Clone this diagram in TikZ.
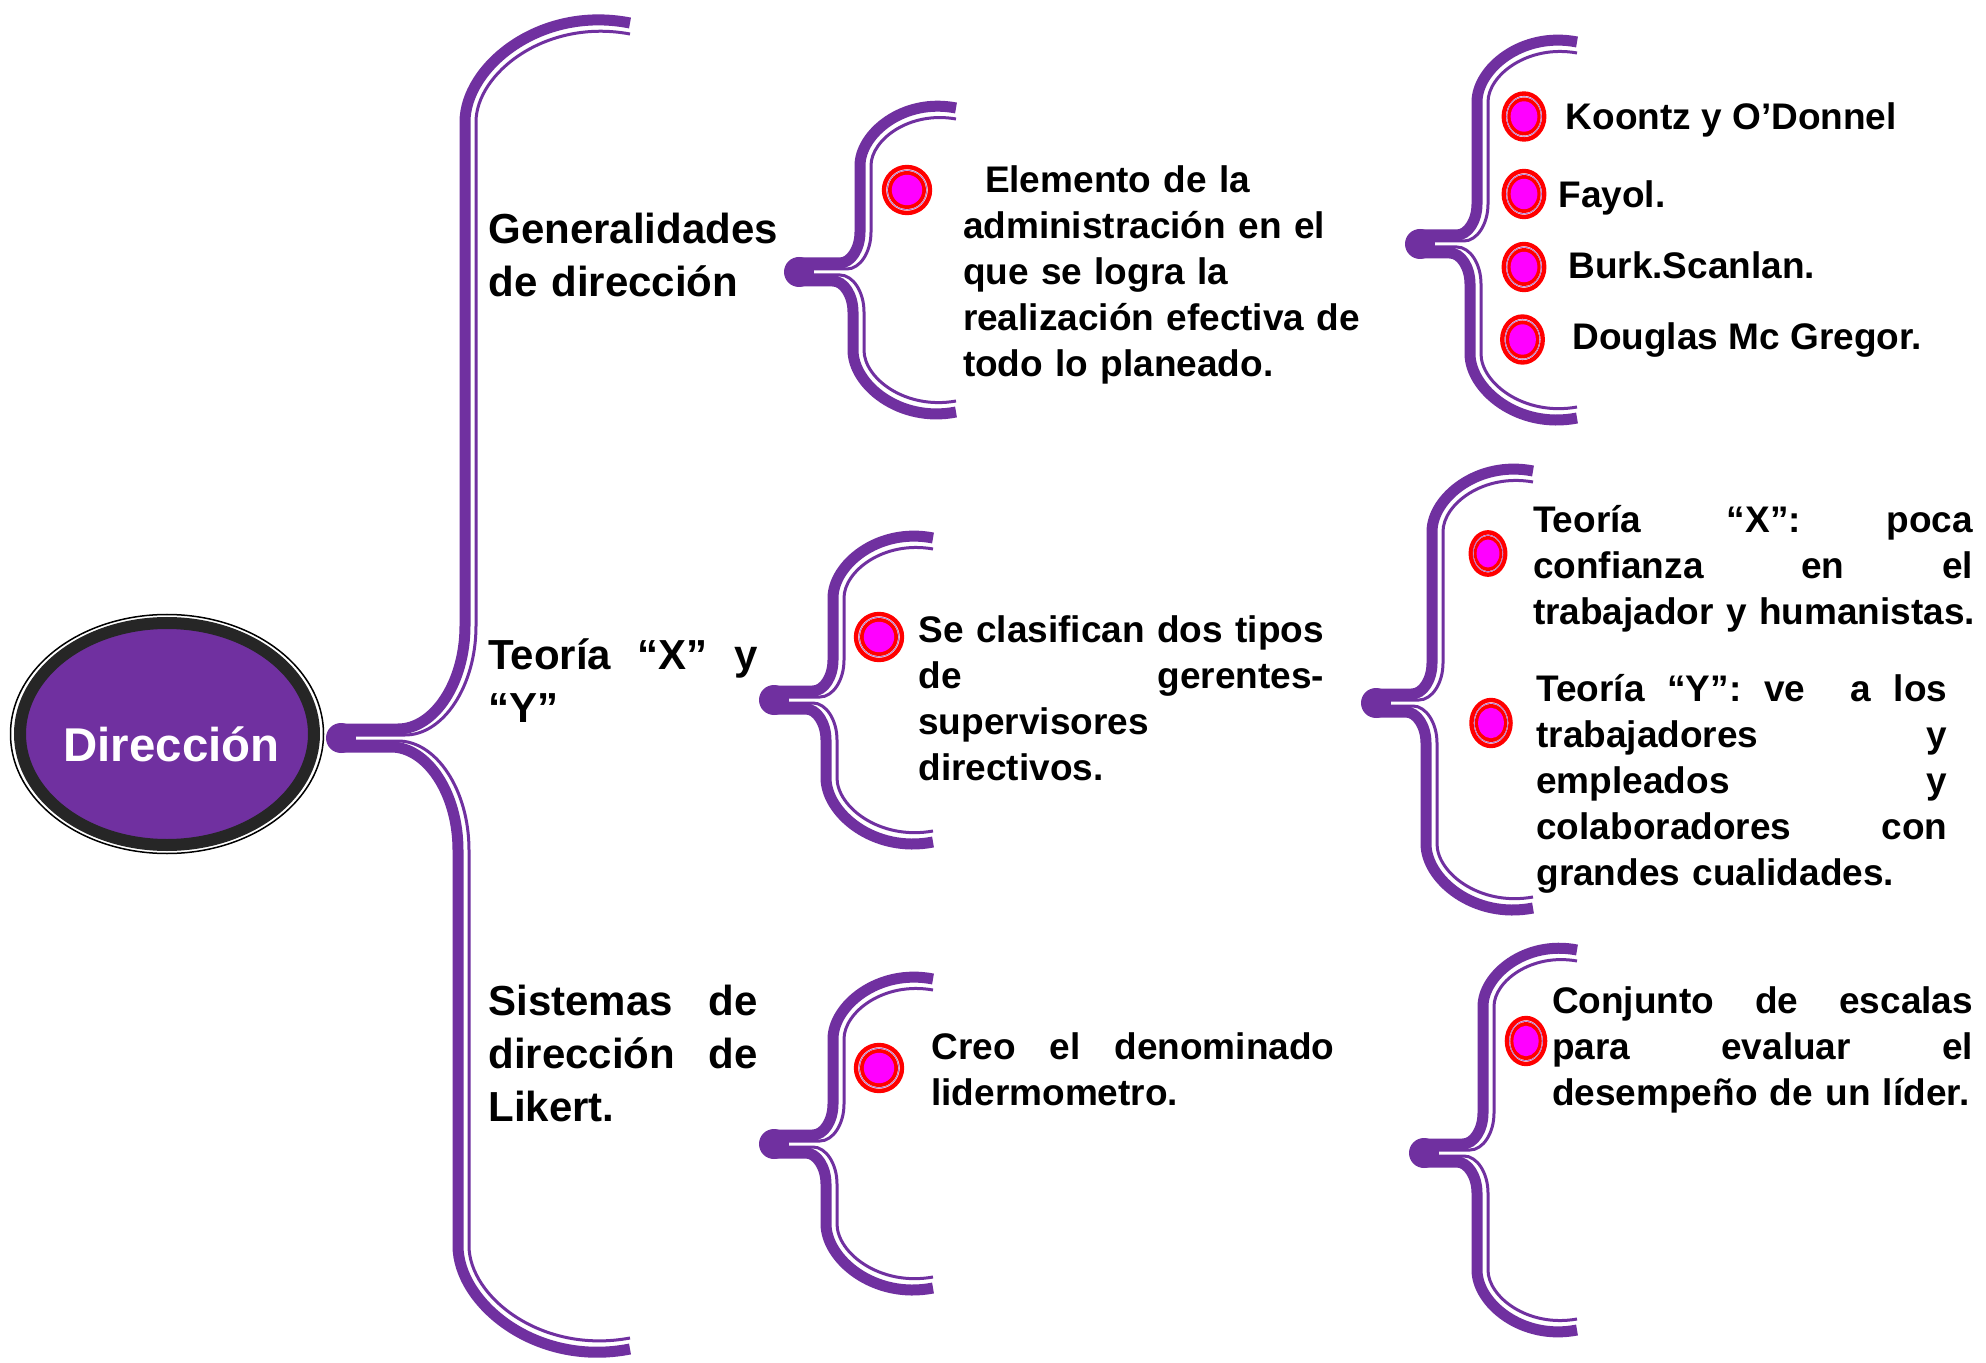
\documentclass[tikz,border=0pt]{standalone}
\usepackage{fontspec}
\setmainfont{Liberation Sans}
\usetikzlibrary{shapes.geometric}

\definecolor{dirpurple}{HTML}{7030A0}
\definecolor{ringdark}{HTML}{262626}
\definecolor{dotred}{HTML}{FF0000}
\definecolor{dotpink}{HTML}{FF00FF}
\definecolor{dotline}{HTML}{B070D0}

\tikzset{
	bracethick/.style={draw=dirpurple, line width=5.5pt},
	bracethin/.style={draw=dirpurple, line width=1.5pt},
	headtxt/.style={anchor=base west, inner sep=0pt, align=left, text width=#1+20pt, /utils/exec={\def\jlw{#1}}, font=\fontsize{21}{26.5}\selectfont\bfseries},
	headtxt/.default=150pt,
	bodytxt/.style={anchor=base west, inner sep=0pt, align=left, text width=#1+20pt, /utils/exec={\def\jlw{#1}}, font=\fontsize{18.5}{23}\selectfont\bfseries},
	bodytxt/.default=210pt,
	nametxt/.style={anchor=base west, inner sep=0pt, font=\fontsize{18.5}{23}\selectfont\bfseries},
	dirnode/.style={ellipse, fill=dirpurple, draw=ringdark, line width=6pt, minimum width=147pt, minimum height=111pt, inner sep=0pt, text height=27pt, text depth=0pt, text=white, font=\fontsize{23.7}{28}\selectfont\bfseries},
}

% justified line, spaces share the spare room
\newcommand\jl[1]{\leavevmode\hbox to \jlw{\spaceskip=0.278em plus 1fil\relax #1}}

% one half of a brace: style, tail x, tail y, spine x, spine from y, spine to y, end x, end y
\newcommand\bracearm[8]{%
	\draw[#1] (#2,#3) -- ({(#4)-0.65*abs((#3)-(#5))},#3)
		.. controls ({(#4)-0.3*abs((#3)-(#5))},#3) and (#4,{(#5)+0.55*((#3)-(#5))}) .. (#4,#5)
		-- (#4,#6)
		.. controls (#4,{(#6)+0.55*((#8)-(#6))}) and ({(#7)-0.55*((#7)-(#4))},{(#8)-0.18*((#6)-(#8))}) .. (#7,#8);}

% cusp x, cusp y, upper spine x, lower spine x, end x, top y, bottom y, bend
\newcommand\curlybrace[8]{%
	\pgfmathsetmacro\bUa{#2-1.6*#8}%
	\pgfmathsetmacro\bLa{#2+1.6*#8}%
	\pgfmathsetmacro\bUb{#6+0.6*(#5-#3)}%
	\pgfmathsetmacro\bLb{#7-0.6*(#5-#4)}%
	\fill[dirpurple] (#1+14,#2) circle (7.5pt);
	\bracearm{bracethick}{#1+14}{#2-9}{#3}{\bUa}{\bUb}{#5}{#6}
	\bracearm{bracethick}{#1+14}{#2+9}{#4}{\bLa}{\bLb}{#5}{#7}
	\bracearm{bracethin}{#1+24}{#2-3}{#3+11}{\bUa}{\bUb}{#5}{#6+11}
	\bracearm{bracethin}{#1+24}{#2+3}{#4+11}{\bLa}{\bLb}{#5}{#7-11}}

\newcommand\dotmark[3][]{%
	\begin{scope}[shift={(#2,#3)},#1]
		\draw[dotred, line width=2.2pt] (0,0) circle (11.5pt);
		\draw[dotline, line width=0.4pt] (0,0) circle (9.9pt);
		\fill[dotred] (0,0) circle (9.5pt);
		\fill[dotpink] (0,0) circle (7.6pt);
	\end{scope}}

\begin{document}
\begin{tikzpicture}[x=0.5pt, y=-0.5pt]
	\fill[white] (0,0) rectangle (1986,1363);
	\useasboundingbox (0,0) rectangle (1986,1363);

	\curlybrace{327}{738}{465}{458}{630}{23}{1349}{70}
	\curlybrace{785}{272}{860}{853}{956}{108}{412}{25}
	\curlybrace{760}{700}{833}{826}{933}{538}{842}{25}
	\curlybrace{760}{1144}{833}{826}{933}{979}{1288}{25}
	\curlybrace{1406}{244}{1477}{1470}{1577}{42}{418}{25}
	\curlybrace{1362}{703}{1432}{1426}{1533}{471}{908}{25}
	\curlybrace{1410}{1153}{1483}{1477}{1577}{950}{1330}{25}

	\node[dirnode] (dir) at (167,734) {\makebox[0pt]{\hspace{4.5pt}Dirección}};
	\draw[black, line width=0.75pt] (dir.center) ellipse [x radius=78.25pt, y radius=59.75pt];

	\node[headtxt] (gen) at (488,244) {Generalidades\\de dirección};
	\node[headtxt=134.5pt] (teo) at (488,669) {\jl{Teoría “X” y}\\“Y”};
	\node[headtxt=134.5pt] (lik) at (488,1015) {\jl{Sistemas de}\\\jl{dirección de}\\Likert.};

	\node[bodytxt] (elem) at (962.6,192.5) {\hspace*{11pt}Elemento de la\\administración en el\\que se logra la\\realización efectiva de\\todo lo planeado.};
	\node[bodytxt=202.8pt] (clas) at (918,642) {\jl{Se clasifican dos tipos}\\\jl{de gerentes-}\\supervisores\\directivos.};
	\node[bodytxt=201.5pt] (creo) at (931,1059) {\jl{Creo el denominado}\\lidermometro.};

	\node[nametxt] (koontz) at (1565.5,130) {Koontz y O’Donnel};
	\node[nametxt] (fayol) at (1558,208) {Fayol.};
	\node[nametxt] (burk) at (1568,279) {Burk.Scanlan.};
	\node[nametxt] (douglas) at (1572,350) {Douglas Mc Gregor.};

	\node[bodytxt=220pt] (teox) at (1532.6,533) {\jl{Teoría “X”: poca}\\\jl{confianza en el}\\trabajador y humanistas.};
	\node[bodytxt=205.5pt] (teoy) at (1536,701) {\jl{Teoría “Y”: ve\ \ a los}\\\jl{trabajadores y}\\\jl{empleados y}\\\jl{colaboradores con}\\grandes cualidades.};
	\node[bodytxt=210.5pt] (escalas) at (1551.6,1013) {\jl{Conjunto de escalas}\\\jl{para evaluar el}\\desempeño de un líder.};

	\dotmark{907}{190}
	\dotmark{879}{637}
	\dotmark{879}{1068}
	\dotmark[xscale=0.88]{1524}{116.5}
	\dotmark[xscale=0.88]{1524}{194}
	\dotmark[xscale=0.88]{1524}{267}
	\dotmark[xscale=0.88]{1522.5}{339.5}
	\dotmark[xscale=0.75,yscale=0.92]{1488}{553.5}
	\dotmark[xscale=0.85]{1491}{723}
	\dotmark[xscale=0.83]{1526}{1041}
\end{tikzpicture}
\end{document}
